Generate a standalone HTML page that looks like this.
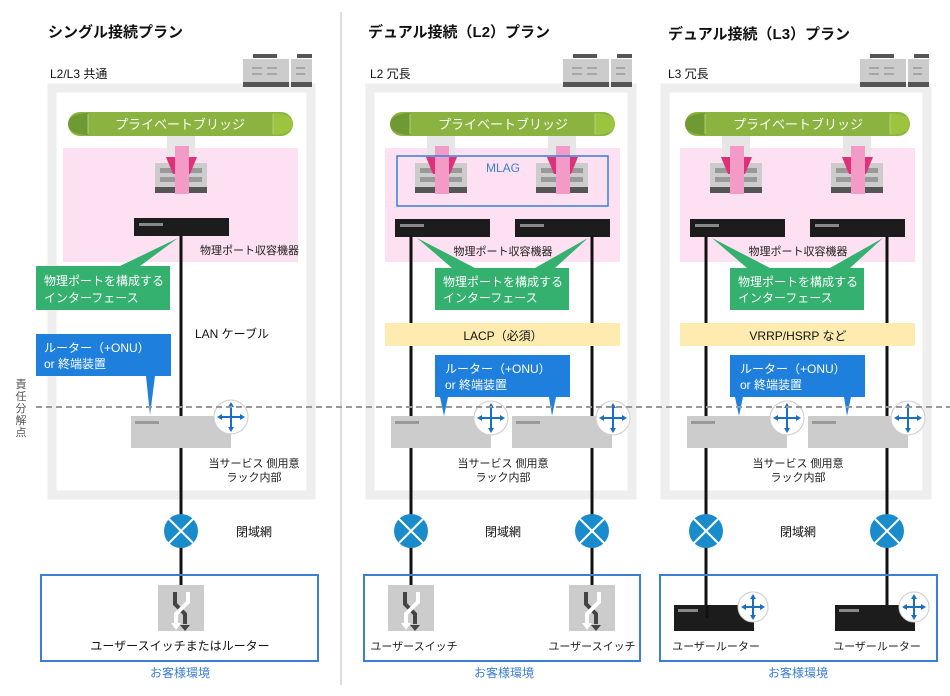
<!DOCTYPE html>
<html><head><meta charset="utf-8"><style>
body{margin:0;background:#fff}
svg{display:block;font-family:"Liberation Sans","Noto Sans CJK JP",sans-serif}
.t{font-size:15px;font-weight:bold;fill:#111}
.s{font-size:11px;fill:#222}
.m{font-size:12px;fill:#111}
.w{font-size:12px;fill:#fff}
.b{font-size:13px;fill:#fff}
</style></head><body>
<svg width="950" height="696" viewBox="0 0 950 696">
<defs>
<g id="bld"><rect x="10" y="0" width="24" height="4" fill="#555"/><rect x="54" y="0" width="15" height="4" fill="#555"/><rect x="0" y="5" width="46" height="28" fill="#ccc"/><rect x="48" y="5" width="21" height="28" fill="#ccc"/><rect x="0" y="28" width="46" height="5" fill="#555"/><rect x="48" y="28" width="21" height="5" fill="#555"/><g stroke="#999" stroke-width="1.5"><line x1="9" y1="14" x2="19" y2="14"/><line x1="24" y1="14" x2="34" y2="14"/><line x1="9" y1="20" x2="19" y2="20"/><line x1="24" y1="20" x2="34" y2="20"/><line x1="53" y1="14" x2="62" y2="14"/><line x1="53" y1="20" x2="62" y2="20"/></g></g>
<g id="bridge"><rect x="0" y="0" width="225" height="24" rx="12" fill="#8ab33f"/><path d="M0,12 Q0,2 20,1 L20,23 Q0,22 0,12Z" fill="#6f9a33"/><path d="M225,12 Q225,2 205,1 L205,23 Q225,22 225,12Z" fill="#9cc43f"/><line x1="20" y1="2" x2="20" y2="22" stroke="#c5dc9a" stroke-width="0.7"/><line x1="205" y1="2" x2="205" y2="22" stroke="#c5dc9a" stroke-width="0.7"/></g>
<g id="sw"><rect x="12" y="-27" width="28" height="30" fill="#e6e6e6"/><rect x="0" y="0" width="52" height="30" fill="#ccc"/><rect x="5" y="5" width="42" height="5" fill="#999"/><rect x="5" y="14" width="42" height="5" fill="#999"/><rect x="0" y="24" width="52" height="6" fill="#555"/><path d="M11,-6 L42,-6 L35,11 L18,11Z" fill="#e0307a"/><rect x="20" y="-17" width="14" height="48" fill="#f49ac7"/></g>
<g id="dev"><rect width="95" height="18" fill="#1c1c1c"/><rect x="5" y="5" width="24" height="3" fill="#888"/></g>
<g id="rt"><rect width="100" height="32" fill="#ccc"/><rect x="4" y="5" width="24" height="3" fill="#999"/></g>
<g id="rc"><circle r="17" fill="#fff" stroke="#ccc"/><g stroke="#1b6fc2" stroke-width="2" fill="#1b6fc2"><line x1="-11" y1="0" x2="11" y2="0"/><line x1="0" y1="-12" x2="0" y2="12"/><path d="M-14,0 l5,-3 v6z M14,0 l-5,-3 v6z M0,-15 l-3,5 h6z M0,15 l-3,-5 h6z" stroke="none"/></g></g>
<g id="rcs"><circle r="15" fill="#fff" stroke="#ccc"/><g stroke="#1b6fc2" stroke-width="2" fill="#1b6fc2"><line x1="-10" y1="0" x2="10" y2="0"/><line x1="0" y1="-10" x2="0" y2="10"/><path d="M-12,0 l5,-3 v6z M12,0 l-5,-3 v6z M0,-13 l-3,5 h6z M0,13 l-3,-5 h6z" stroke="none"/></g></g>
<g id="net"><circle r="17" fill="#1a8ccc"/><g stroke="#fff" stroke-width="2"><line x1="-12" y1="-12" x2="12" y2="12"/><line x1="12" y1="-12" x2="-12" y2="12"/></g></g>
<g id="usw"><rect width="46" height="46" fill="#ccc"/><path d="M17,7 v12 l10,10 v10" stroke="#444" stroke-width="4" fill="none"/><path d="M22,40 l5,6 l5,-6z" fill="#444"/><path d="M30,7 v10 l-12,12 v10" stroke="#fff" stroke-width="4" fill="none"/><path d="M13,38 l5,7 l5,-7z" fill="#fff"/></g>
</defs>

<line x1="341" y1="12" x2="341" y2="685" stroke="#ddd" stroke-width="2"/>

<!-- Panel 1 -->
<text x="48" y="37" class="t">シングル接続プラン</text>
<text x="50" y="78" class="m">L2/L3 共通</text>
<rect x="52" y="88" width="259" height="407" fill="#fff" stroke="#eee" stroke-width="9"/>
<use href="#bld" x="243" y="54"/>
<use href="#bridge" x="68" y="112"/>
<text x="180" y="129" class="b" text-anchor="middle">プライベートブリッジ</text>
<rect x="63" y="148" width="235" height="114" fill="#fde0f1"/>
<use href="#sw" x="155" y="163"/>
<use href="#dev" x="134" y="218"/>
<text x="200" y="254" class="s">物理ポート収容機器</text>
<line x1="181" y1="236" x2="181" y2="590" stroke="#111" stroke-width="3"/>
<path d="M36,266 H170 V310 H36Z M120,266 L178,238 L140,266Z" fill="#34b06f"/>
<text x="44" y="285" class="w">物理ポートを構成する</text>
<text x="44" y="302" class="w">インターフェース</text>
<text x="195" y="338" class="m">LAN ケーブル</text>
<path d="M36,334 H171 V376 H36Z M146,376 L150,415 L155,376Z" fill="#1e80dc"/>
<text x="44" y="352" class="w">ルーター（+ONU）</text>
<text x="44" y="368" class="w">or 終端装置</text>
<use href="#rt" x="131" y="416"/>
<use href="#rc" x="231" y="417"/>
<text x="254" y="467" class="s" text-anchor="middle">当サービス 側用意</text>
<text x="254" y="481" class="s" text-anchor="middle">ラック内部</text>
<use href="#net" x="181" y="531"/>
<text x="236" y="536" class="m">閉域網</text>
<rect x="41" y="575" width="277" height="86" fill="none" stroke="#3a7fd5" stroke-width="2"/>
<use href="#usw" x="158" y="585"/>
<text x="180" y="650" class="m" text-anchor="middle">ユーザースイッチまたはルーター</text>
<text x="180" y="677" class="m" style="fill:#3a7fd5" text-anchor="middle">お客様環境</text>

<!-- Panel 2 -->
<text x="368" y="37" class="t">デュアル接続（L2）プラン</text>
<text x="370" y="78" class="m">L2 冗長</text>
<rect x="370" y="88" width="262" height="407" fill="#fff" stroke="#eee" stroke-width="9"/>
<use href="#bld" x="563" y="54"/>
<use href="#bridge" x="390" y="112"/>
<text x="503" y="129" class="b" text-anchor="middle">プライベートブリッジ</text>
<rect x="385" y="148" width="235" height="114" fill="#fde0f1"/>
<use href="#sw" x="415" y="163"/>
<use href="#sw" x="536" y="163"/>
<rect x="397" y="156" width="211" height="50" fill="none" stroke="#3a7fd5" stroke-width="1.5"/>
<text x="503" y="172" class="m" text-anchor="middle" style="fill:#3a7fd5">MLAG</text>
<use href="#dev" x="395" y="219"/>
<use href="#dev" x="515" y="219"/>
<text x="503" y="255" class="s" text-anchor="middle">物理ポート収容機器</text>
<line x1="411" y1="236" x2="411" y2="590" stroke="#111" stroke-width="3"/>
<line x1="592" y1="236" x2="592" y2="590" stroke="#111" stroke-width="3"/>
<path d="M435,268 H569 V310 H435Z M452,268 L417,238 L475,268Z M535,268 L588,238 L555,268Z" fill="#34b06f"/>
<text x="443" y="286" class="w">物理ポートを構成する</text>
<text x="443" y="302" class="w">インターフェース</text>
<rect x="385" y="323" width="235" height="23" fill="#fdebb0"/>
<text x="503" y="340" class="m" text-anchor="middle">LACP（必須）</text>
<path d="M435,355 H570 V397 H435Z M440,397 L444,416 L448,397Z M549,397 L552,416 L556,397Z" fill="#1e80dc"/>
<text x="445" y="373" class="w">ルーター（+ONU）</text>
<text x="445" y="389" class="w">or 終端装置</text>
<use href="#rt" x="391" y="416"/>
<use href="#rt" x="512" y="416"/>
<use href="#rc" x="491" y="418"/>
<use href="#rc" x="613" y="418"/>
<text x="503" y="467" class="s" text-anchor="middle">当サービス 側用意</text>
<text x="503" y="481" class="s" text-anchor="middle">ラック内部</text>
<use href="#net" x="411" y="531"/>
<use href="#net" x="592" y="531"/>
<text x="503" y="536" class="m" text-anchor="middle">閉域網</text>
<rect x="364" y="575" width="276" height="86" fill="none" stroke="#3a7fd5" stroke-width="2"/>
<use href="#usw" x="388" y="585"/>
<use href="#usw" x="569" y="585"/>
<text x="414" y="650" class="s" text-anchor="middle">ユーザースイッチ</text>
<text x="592" y="650" class="s" text-anchor="middle">ユーザースイッチ</text>
<text x="504" y="677" class="m" style="fill:#3a7fd5" text-anchor="middle">お客様環境</text>

<!-- Panel 3 -->
<text x="668" y="39" class="t">デュアル接続（L3）プラン</text>
<text x="668" y="78" class="m">L3 冗長</text>
<rect x="665" y="88" width="262" height="407" fill="#fff" stroke="#eee" stroke-width="9"/>
<use href="#bld" x="860" y="54"/>
<use href="#bridge" x="685" y="112"/>
<text x="798" y="129" class="b" text-anchor="middle">プライベートブリッジ</text>
<rect x="680" y="148" width="235" height="114" fill="#fde0f1"/>
<use href="#sw" x="710" y="163"/>
<use href="#sw" x="831" y="163"/>
<use href="#dev" x="690" y="219"/>
<use href="#dev" x="810" y="219"/>
<text x="798" y="255" class="s" text-anchor="middle">物理ポート収容機器</text>
<line x1="706" y1="236" x2="706" y2="618" stroke="#111" stroke-width="3"/>
<line x1="887" y1="236" x2="887" y2="605" stroke="#111" stroke-width="3"/>
<path d="M730,268 H864 V310 H730Z M747,268 L712,238 L770,268Z M830,268 L883,238 L850,268Z" fill="#34b06f"/>
<text x="738" y="286" class="w">物理ポートを構成する</text>
<text x="738" y="302" class="w">インターフェース</text>
<rect x="680" y="323" width="235" height="23" fill="#fdebb0"/>
<text x="798" y="340" class="m" text-anchor="middle">VRRP/HSRP など</text>
<path d="M730,355 H865 V397 H730Z M735,397 L739,416 L743,397Z M844,397 L847,416 L851,397Z" fill="#1e80dc"/>
<text x="740" y="373" class="w">ルーター（+ONU）</text>
<text x="740" y="389" class="w">or 終端装置</text>
<use href="#rt" x="687" y="416"/>
<use href="#rt" x="808" y="416"/>
<use href="#rc" x="787" y="418"/>
<use href="#rc" x="908" y="418"/>
<text x="798" y="467" class="s" text-anchor="middle">当サービス 側用意</text>
<text x="798" y="481" class="s" text-anchor="middle">ラック内部</text>
<use href="#net" x="706" y="531"/>
<use href="#net" x="887" y="531"/>
<text x="798" y="536" class="m" text-anchor="middle">閉域網</text>
<rect x="660" y="575" width="277" height="86" fill="none" stroke="#3a7fd5" stroke-width="2"/>
<rect x="674" y="605" width="80" height="26" fill="#1c1c1c"/><rect x="678" y="609" width="20" height="3" fill="#888"/>
<rect x="835" y="605" width="80" height="26" fill="#1c1c1c"/><rect x="839" y="609" width="20" height="3" fill="#888"/>
<line x1="707" y1="605" x2="707" y2="618" stroke="#111" stroke-width="3"/>
<use href="#rcs" x="753" y="607"/>
<use href="#rcs" x="914" y="607"/>
<text x="716" y="650" class="s" text-anchor="middle">ユーザールーター</text>
<text x="877" y="650" class="s" text-anchor="middle">ユーザールーター</text>
<text x="798" y="677" class="m" style="fill:#3a7fd5" text-anchor="middle">お客様環境</text>

<!-- responsibility line -->
<line x1="36" y1="407" x2="950" y2="407" stroke="#999" stroke-width="2" stroke-dasharray="6,4"/>
<g class="s" style="fill:#555" text-anchor="middle">
<text x="21" y="388">責</text><text x="21" y="400">任</text><text x="21" y="412">分</text><text x="21" y="424">解</text><text x="21" y="436">点</text>
</g>
</svg>
</body></html>
